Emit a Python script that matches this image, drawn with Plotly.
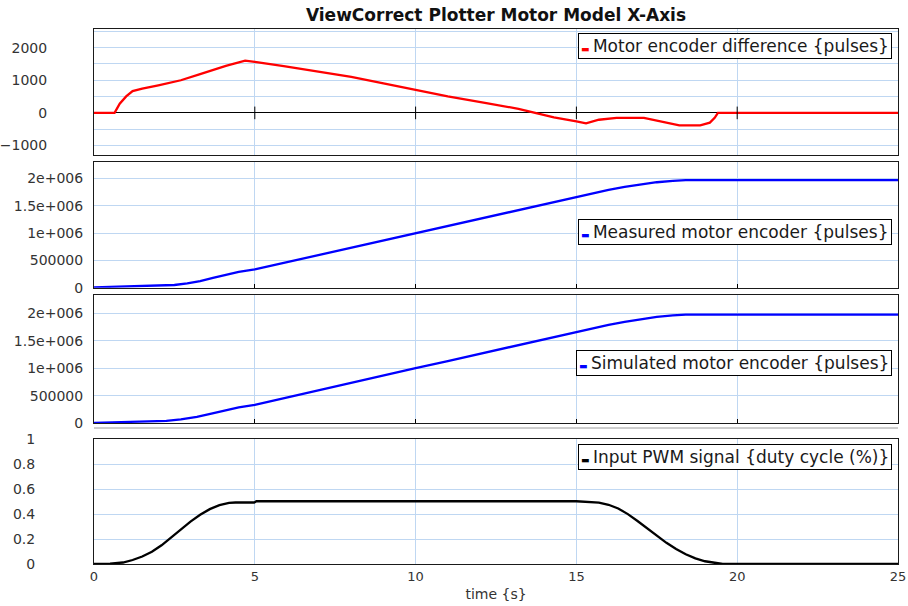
import plotly.graph_objects as go
from plotly.subplots import make_subplots

# --- Motor encoder difference (measured - simulated) ---
t_diff = [0, 0.64, 0.8, 1.0, 1.2, 1.5, 2.0, 2.7, 3.3, 4.1, 4.7, 5.0, 5.9, 6.9, 8.0,
          9.0, 10.0, 11.0, 12.2, 13.2, 13.75, 14.3, 15.0, 15.3, 15.7, 16.25, 17.1,
          17.6, 18.2, 18.85, 19.15, 19.3, 19.4, 25]
diff_pulses = [0, 0, 280, 505, 670, 745, 845, 1000, 1185, 1440, 1600, 1565, 1435,
               1270, 1100, 905, 710, 505, 300, 125, -10, -135, -258, -320, -210,
               -155, -155, -258, -380, -380, -300, -150, 0, 0]

# --- Measured motor encoder ---
t_meas = [0, 0.9, 1.9, 2.5, 2.9, 3.3, 3.7, 4.1, 4.5, 5.0, 6.0, 7.0, 8.0, 9.0, 10.0,
          11.0, 12.0, 13.0, 14.0, 15.0, 15.5, 16.0, 16.5, 17.0, 17.5, 18.0, 18.4,
          19.0, 25]
meas_pulses = [8000, 20000, 35000, 50000, 80000, 122000, 180000, 240000, 290000,
               335000, 468000, 600000, 735000, 868000, 1000000, 1133000, 1266000,
               1400000, 1533000, 1665000, 1730000, 1790000, 1845000, 1890000,
               1930000, 1955000, 1968000, 1970000, 1970000]

# --- Simulated motor encoder ---
t_sim = [0, 0.85, 2.25, 2.7, 3.2, 3.65, 4.1, 4.5, 5.0, 6.0, 7.0, 8.0, 9.0, 10.0,
         11.0, 12.0, 13.0, 14.0, 15.0, 15.5, 16.0, 16.5, 17.0, 17.5, 18.0, 18.4, 25]
sim_pulses = [8000, 20000, 43000, 70000, 115000, 175000, 243000, 290000, 335000,
              470000, 600000, 735000, 868000, 1000000, 1130000, 1262000, 1395000,
              1530000, 1660000, 1728000, 1787000, 1840000, 1890000, 1932000,
              1960000, 1972000, 1972000]

# --- Input PWM duty cycle ---
t_pwm = [0, 0.5, 0.9, 1.2, 1.5, 1.8, 2.1, 2.4, 2.7, 3.0, 3.3, 3.6, 3.9, 4.2, 4.4,
         4.98, 5.05, 15.0, 15.7, 16.0, 16.3, 16.6, 16.9, 17.2, 17.5, 17.8, 18.1,
         18.4, 18.7, 19.0, 19.3, 19.5, 19.55, 25]
pwm_duty = [0, 0.003, 0.012, 0.032, 0.06, 0.098, 0.15, 0.215, 0.28, 0.34, 0.395,
            0.44, 0.472, 0.49, 0.493, 0.493, 0.503, 0.503, 0.493, 0.475, 0.445,
            0.4, 0.345, 0.285, 0.225, 0.17, 0.12, 0.078, 0.045, 0.022, 0.01,
            0.005, 0, 0]

# --- Axis ticks and labels ---
x_ticks = [0, 5, 10, 15, 20, 25]
diff_ticks = [-1000, 0, 1000, 2000]
enc_ticks = [0, 500000, 1000000, 1500000, 2000000]
enc_labels = ["0", "500000", "1e+006", "1.5e+006", "2e+006"]
pwm_ticks = [0, 0.2, 0.4, 0.6, 0.8, 1]
pwm_labels = ["0", "0.2", "0.4", "0.6", "0.8", "1"]

legend_names = [
    "Motor encoder difference {pulses}",
    "Measured motor encoder {pulses}",
    "Simulated motor encoder {pulses}",
    "Input PWM signal {duty cycle (%)}",
]
colors = ["#ff0000", "#0000ff", "#0000ff", "#000000"]

FONT = "DejaVu Sans"
GRID = "#bfd7f2"
FRAME = "#1a1a1a"
TICKCOL = "#333333"

fig = make_subplots(rows=4, cols=1, shared_xaxes=False)

series = [(t_diff, diff_pulses), (t_meas, meas_pulses), (t_sim, sim_pulses), (t_pwm, pwm_duty)]
for i, ((tx, vy), c) in enumerate(zip(series, colors), start=1):
    fig.add_trace(go.Scatter(x=tx, y=vy, mode="lines",
                             line=dict(color=c, width=2.3),
                             showlegend=False, hoverinfo="skip"), row=i, col=1)

# small tick marks along the zero line of the difference panel
inner_ticks = [v for v in x_ticks if 0 < v < 25]
fig.add_trace(go.Scatter(x=inner_ticks, y=[0] * len(inner_ticks), mode="markers",
                         marker=dict(symbol="line-ns", size=9,
                                     line=dict(color="#000000", width=1)),
                         showlegend=False, hoverinfo="skip"), row=1, col=1)

domains = [[0.7645, 1.0], [0.5164, 0.7514], [0.263, 0.5019], [0.0, 0.2331]]
y_ranges = [[-1290, 2570], [0, 2.3e6], [0, 2.32e6], [0, 1]]
standoffs = [43, 7, 7, 55]

for i in range(1, 5):
    xa = dict(range=[0, 25], domain=[0, 1], showline=True, mirror=True,
              linecolor=FRAME, linewidth=1, showgrid=True, gridcolor=GRID,
              gridwidth=1, tickvals=x_ticks, zeroline=False, automargin=False,
              showticklabels=(i == 4),
              tickfont=dict(family=FONT, size=13, color=TICKCOL))
    if i in (2, 3):
        xa.update(ticks="inside", ticklen=4, tickcolor="#000000", tickwidth=1)
    else:
        xa.update(ticks="")
    if i == 4:
        xa.update(title=dict(text="time {s}", standoff=6,
                             font=dict(family=FONT, size=14, color=TICKCOL)))
    fig.update_xaxes(xa, row=i, col=1)

    ya = dict(domain=domains[i - 1], range=y_ranges[i - 1], showline=True,
              mirror=True, linecolor=FRAME, linewidth=1, showgrid=True,
              gridcolor=GRID, gridwidth=1, ticks="", automargin=False,
              ticklabelstandoff=standoffs[i - 1],
              tickfont=dict(family=FONT, size=14, color=TICKCOL), zeroline=False)
    if i == 1:
        ya.update(tickvals=diff_ticks, zeroline=True, zerolinecolor="#000000",
                  zerolinewidth=1,
                  minor=dict(dtick=500, tick0=0, showgrid=True, gridcolor=GRID,
                             gridwidth=1, ticks=""))
    elif i in (2, 3):
        ya.update(tickvals=enc_ticks, ticktext=enc_labels, zeroline=True,
                  zerolinecolor="#000000", zerolinewidth=2)
    else:
        ya.update(tickvals=pwm_ticks, ticktext=pwm_labels)
    fig.update_yaxes(ya, row=i, col=1)

# boxed legends, one per panel
legend_pos = [(0.9925, 0.968, "top"), (0.9925, 0.443, "middle"),
              (0.9925, 0.472, "middle"), (0.9925, 0.962, "top")]
for i, (name, c, (lx, ly, anc)) in enumerate(zip(legend_names, colors, legend_pos), start=1):
    xref = "x domain" if i == 1 else f"x{i} domain"
    yref = "y domain" if i == 1 else f"y{i} domain"
    fig.add_annotation(
        x=lx, y=ly, xref=xref, yref=yref, xanchor="right", yanchor=anc,
        text=(f"<span style='color:{c};font-size:9px'>\u25ac</span>"
              f"\u2009{name}"),
        showarrow=False, align="left",
        font=dict(family=FONT, size=17, color="#1a1a1a"),
        bgcolor="#ffffff", bordercolor="#000000", borderwidth=1, borderpad=2,
    )

# thin separator under the simulated-encoder panel
fig.add_shape(type="line", xref="paper", yref="paper", x0=0, x1=1,
              y0=(564 - 428) / 535, y1=(564 - 428) / 535,
              line=dict(color="#9a9a9a", width=1))

fig.update_layout(
    width=908, height=606,
    margin=dict(l=94, r=10, t=29, b=42, autoexpand=False),
    paper_bgcolor="#ffffff", plot_bgcolor="#ffffff",
    title=dict(text="<b>ViewCorrect Plotter Motor Model X-Axis</b>",
               x=0.5, xref="paper", y=1 - 15 / 606, yref="container",
               xanchor="center", yanchor="middle",
               font=dict(family=FONT, size=17, color="#111111")),
    showlegend=False,
)

fig.write_html("out.html")
